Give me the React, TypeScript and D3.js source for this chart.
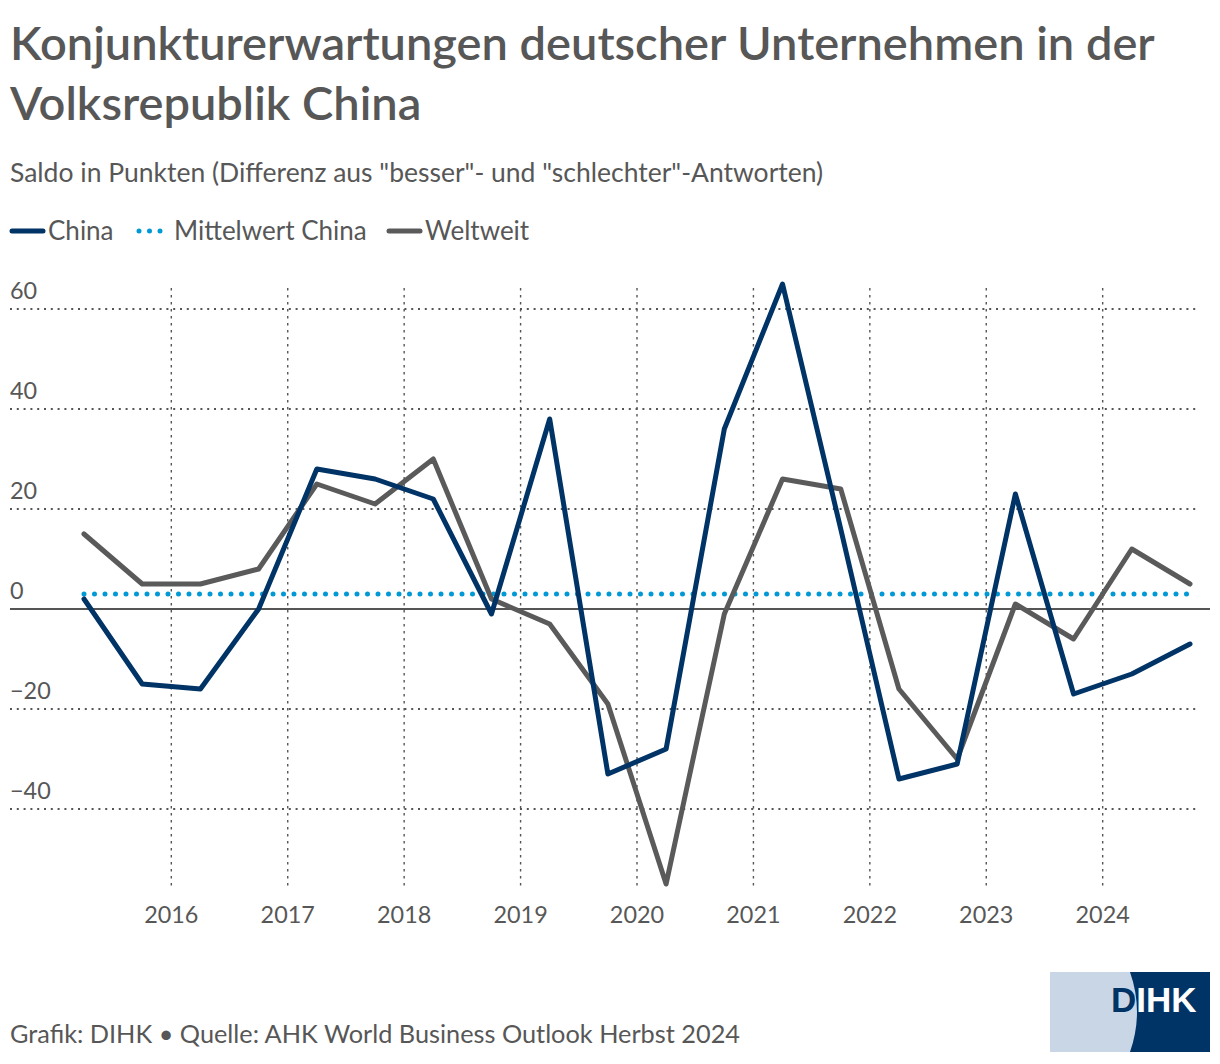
import React from "react";
import * as d3 from "d3";

const periods: number[] = [
  2015.25, 2015.75, 2016.25, 2016.75, 2017.25, 2017.75, 2018.25, 2018.75, 2019.25, 2019.75,
  2020.25, 2020.75, 2021.25, 2021.75, 2022.25, 2022.75, 2023.25, 2023.75, 2024.25, 2024.75,
];
const chinaValues: number[] = [2, -15, -16, 0, 28, 26, 22, -1, 38, -33, -28, 36, 65, 16, -34, -31, 23, -17, -13, -7];
const weltweitValues: number[] = [15, 5, 5, 8, 25, 21, 30, 2, -3, -19, -55, -1, 26, 24, -16, -30, 1, -6, 12, 5];
const mittelwertChina = 3;
const yTicks: number[] = [60, 40, 20, 0, -20, -40];
const xTickYears: number[] = [2016, 2017, 2018, 2019, 2020, 2021, 2022, 2023, 2024];
const legendItems = [
  { label: "China", kind: "china" },
  { label: "Mittelwert China", kind: "mean" },
  { label: "Weltweit", kind: "world" },
];

const W = 1220;
const H = 1064;
const FONT = "'Source Sans Pro', Lato, 'Noto Sans', sans-serif";
const TEXT = "#575757";
const NAVY = "#003366";
const GREY = "#5a5a5a";
const BLUE = "#0099d6";

export default function App() {
  const x = d3.scaleLinear().domain([2015.25, 2024.75]).range([84, 1190]);
  const y = d3.scaleLinear().domain([-55, 65]).range([884, 284]);

  const line = d3
    .line<number>()
    .x((_, i) => x(periods[i]))
    .y((d) => y(d));

  const fmt = (v: number) => (v < 0 ? "\u2212" + Math.abs(v) : String(v));

  const legendX = [10, 136, 387];

  return (
    <svg
      width={W}
      height={H}
      viewBox={`0 0 ${W} ${H}`}
      style={{ position: "absolute", left: 0, top: 0, background: "#fff" }}
      fontFamily={FONT}
    >
      <defs>
        <clipPath id="logoDark">
          <path d="M1130,972 Q1144,1012 1130,1052 L1210,1052 L1210,972 Z" />
        </clipPath>
      </defs>

      {/* Title */}
      <text x={10} y={60} fontSize={47} fontWeight={600} fill={TEXT}>
        Konjunkturerwartungen deutscher Unternehmen in der
      </text>
      <text x={10} y={120} fontSize={47} fontWeight={600} fill={TEXT}>
        Volksrepublik China
      </text>
      <text x={10} y={182} fontSize={26.5} fill={TEXT}>
        Saldo in Punkten (Differenz aus "besser"- und "schlechter"-Antworten)
      </text>

      {/* Legend */}
      {legendItems.map((it, i) => {
        const lx = legendX[i];
        return (
          <g key={it.label}>
            {it.kind === "mean" ? (
              <line
                x1={lx + 3}
                x2={lx + 25}
                y1={231}
                y2={231}
                stroke={BLUE}
                strokeWidth={5}
                strokeLinecap="round"
                strokeDasharray="0,10.5"
              />
            ) : (
              <line
                x1={lx + 2}
                x2={lx + 33}
                y1={231}
                y2={231}
                stroke={it.kind === "china" ? NAVY : GREY}
                strokeWidth={5}
                strokeLinecap="round"
              />
            )}
            <text x={lx + 38} y={240} fontSize={26} fill={TEXT}>
              {it.label}
            </text>
          </g>
        );
      })}

      {/* Vertical grid */}
      {xTickYears.map((yr) => (
        <g key={yr}>
          <line
            x1={x(yr)}
            x2={x(yr)}
            y1={288}
            y2={886}
            stroke="#555"
            strokeWidth={1.4}
            strokeDasharray="2.5,4.5"
          />
          <text x={x(yr)} y={923} fontSize={23.4} fill={TEXT} textAnchor="middle">
            {yr}
          </text>
        </g>
      ))}

      {/* Horizontal grid */}
      {yTicks.map((t) => (
        <g key={t}>
          {t !== 0 && (
            <line
              x1={10}
              x2={1200}
              y1={y(t)}
              y2={y(t)}
              stroke="#555"
              strokeWidth={1.8}
              strokeDasharray="2,4.8"
            />
          )}
          <text x={10} y={y(t) - 10} fontSize={23.4} fill={TEXT}>
            {fmt(t)}
          </text>
        </g>
      ))}
      <line x1={10} x2={1210} y1={y(0)} y2={y(0)} stroke="#555" strokeWidth={2.2} />

      {/* Mean line */}
      <line
        x1={x(periods[0])}
        x2={x(periods[periods.length - 1])}
        y1={y(mittelwertChina)}
        y2={y(mittelwertChina)}
        stroke={BLUE}
        strokeWidth={5}
        strokeLinecap="round"
        strokeDasharray="0,10.5"
      />

      {/* Series */}
      <path d={line(weltweitValues) || ""} fill="none" stroke={GREY} strokeWidth={5} strokeLinejoin="round" strokeLinecap="round" />
      <path d={line(chinaValues) || ""} fill="none" stroke={NAVY} strokeWidth={5} strokeLinejoin="round" strokeLinecap="round" />

      {/* Footer */}
      <text x={10} y={1043} fontSize={25.3} fill={TEXT}>
        Grafik: DIHK • Quelle: AHK World Business Outlook Herbst 2024
      </text>

      {/* Logo */}
      <rect x={1050} y={972} width={160} height={80} fill="#c9d6e5" />
      <path d="M1130,972 Q1144,1012 1130,1052 L1210,1052 L1210,972 Z" fill={NAVY} />
      <text x={1111} y={1012} fontSize={35} fontWeight={700} fill={NAVY} fontFamily="'Liberation Sans', Arial, sans-serif">
        DIHK
      </text>
      <g clipPath="url(#logoDark)">
        <text x={1111} y={1012} fontSize={35} fontWeight={700} fill="#fff" fontFamily="'Liberation Sans', Arial, sans-serif">
          DIHK
        </text>
      </g>
    </svg>
  );
}
